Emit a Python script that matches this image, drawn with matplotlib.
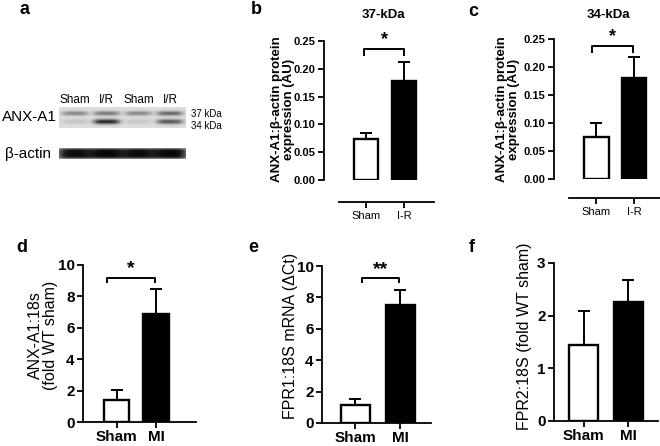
import numpy as np
import matplotlib.pyplot as plt
from matplotlib.ticker import FormatStrFormatter

plt.rcParams['font.family'] = ['Liberation Sans', 'DejaVu Sans']

W, H = 660, 446

# panel a: western blot (relative band darkness per lane)
lanes = ["Sham", "I/R", "Sham", "I/R"]
band_37kda = [0.40, 0.46, 0.40, 0.55]
band_34kda = [0.12, 0.85, 0.10, 0.62]
band_actin = [0.93, 0.96, 0.93, 0.96]

# panels b, c: protein
groups_ir = ["Sham", "I-R"]
mean_37 = [0.073, 0.178]
err_37 = [0.011, 0.034]
mean_34 = [0.075, 0.180]
err_34 = [0.025, 0.038]

# panels d, e, f: mRNA
groups_mi = ["Sham", "MI"]
mean_anx = [1.40, 6.90]
err_anx = [0.64, 1.60]
mean_fpr1 = [1.13, 7.54]
err_fpr1 = [0.38, 0.96]
mean_fpr2 = [1.44, 2.26]
err_fpr2 = [0.64, 0.41]

fig = plt.figure(figsize=(6.6, 4.46), dpi=100)


def px_axes(left, top, right, bottom):
    return fig.add_axes([left / W, 1 - bottom / H, (right - left) / W, (bottom - top) / H])


def px_text(x, y, s, **kw):
    fig.text(x / W, 1 - y / H, s, **kw)


def bar_panel(rect, xlim, width, means, errs, labels, ylim, yticks, fs, fmt=None):
    ax = px_axes(*rect)
    x = np.arange(len(means))
    ax.bar(x, means, width=width, color=['white', 'black'], edgecolor='black',
           linewidth=1.7, zorder=2)
    ax.errorbar(x, means, yerr=[np.zeros(len(means)), errs], fmt='none',
                ecolor='black', elinewidth=1.4, capsize=4.5, capthick=1.4, zorder=3)
    ax.set_xlim(*xlim)
    ax.set_ylim(*ylim)
    ax.set_yticks(yticks)
    if fmt:
        ax.yaxis.set_major_formatter(FormatStrFormatter(fmt))
    ax.set_xticks(x)
    ax.set_xticklabels(labels)
    for s in ['top', 'right']:
        ax.spines[s].set_visible(False)
    for s in ['left', 'bottom']:
        ax.spines[s].set_linewidth(1.3)
    ax.spines['left'].set_bounds(ylim[0], ylim[1])
    ax.tick_params(direction='out', length=4, width=1.3, pad=2, labelsize=fs)
    for t in ax.get_xticklabels() + ax.get_yticklabels():
        t.set_fontweight('bold')
    ax.patch.set_visible(False)
    return ax


def bracket(ax, x0, x1, ytop, ybot, label, ytext, fs):
    ax.plot([x0, x0, x1, x1], [ybot, ytop, ytop, ybot], color='black', lw=1.4,
            clip_on=False, solid_capstyle='butt')
    ax.text((x0 + x1) / 2, ytext, label, ha='center', va='center',
            fontsize=fs, fontweight='bold')


# ---- panel a ----
lw = 127 / 4
xx = np.linspace(0, 127, 381)
cx = (np.arange(4) + 0.5) * lw

yy = np.linspace(0, 21, 84)
img = np.full((yy.size, xx.size), 0.87)
for i in range(4):
    px = np.exp(-((xx - cx[i]) / (0.42 * lw)) ** 4)
    g37 = np.exp(-((yy - 7.0) / 2.2) ** 2)
    g34 = np.exp(-((yy - 15.0) / 2.4) ** 2)
    img -= 0.87 * (band_37kda[i] * np.outer(g37, px) + band_34kda[i] * np.outer(g34, px))
ax_blot = px_axes(59, 107, 186, 128)
ax_blot.imshow(np.clip(img, 0, 1), cmap='gray', vmin=0, vmax=1, aspect='auto',
               extent=[0, 127, 21, 0], interpolation='bilinear')
ax_blot.axis('off')
for i, lab in enumerate(lanes):
    ax_blot.text(cx[i], -7, lab, ha='center', va='center', fontsize=8.5)

ya = np.linspace(0, 11, 44)
img2 = np.full((ya.size, xx.size), 0.7)
for i in range(4):
    px = np.exp(-((xx - cx[i]) / (0.53 * lw)) ** 4)
    gv = np.exp(-((ya - 5.5) / 5.0) ** 6)
    img2 -= 0.7 * band_actin[i] * np.outer(gv, px)
ax_act = px_axes(59, 148, 186, 159)
ax_act.imshow(np.clip(img2, 0, 1), cmap='gray', vmin=0, vmax=1, aspect='auto',
              extent=[0, 127, 11, 0], interpolation='bilinear')
ax_act.axis('off')

px_text(2, 117, "ANX-A1", ha='left', va='center', fontsize=11)
px_text(5, 154, "β-actin", ha='left', va='center', fontsize=11)
px_text(191, 114, "37 kDa", ha='left', va='center', fontsize=7)
px_text(191, 126, "34 kDa", ha='left', va='center', fontsize=7)

# ---- panel b ----
ax_b = bar_panel((324, 41, 436, 180), (-1.105, 1.842), 0.63, mean_37, err_37, groups_ir,
                 (0, 0.25), [0, 0.05, 0.10, 0.15, 0.20, 0.25], 8, '%.2f')
ax_b.spines['bottom'].set_position(('outward', 16))
ax_b.spines['bottom'].set_bounds(-0.71, 1.79)
bracket(ax_b, -0.05, 1.0, 0.2356, 0.223, "*", 0.252, 13)
px_text(383, 15, "37-kDa", ha='center', va='center', fontsize=9.5, fontweight='bold')

# ---- panel c ----
ax_c = bar_panel((554, 39, 660, 179), (-1.12, 1.69), 0.65, mean_34, err_34, groups_ir,
                 (0, 0.25), [0, 0.05, 0.10, 0.15, 0.20, 0.25], 8, '%.2f')
ax_c.spines['bottom'].set_position(('outward', 14))
ax_c.spines['bottom'].set_bounds(-0.72, 1.69)
bracket(ax_c, -0.12, 0.97, 0.2375, 0.225, "*", 0.255, 13)
px_text(608, 15, "34-kDa", ha='center', va='center', fontsize=9.5, fontweight='bold')

for x in (283, 508):
    px_text(x, 109, "ANX-A1:β-actin protein\nexpression (AU)", ha='center', va='center',
            rotation=90, fontsize=9.5, fontweight='bold', linespacing=1.1)

# ---- panel d ----
ax_d = bar_panel((83, 265, 196, 422), (-0.85, 2.01), 0.65, mean_anx, err_anx, groups_mi,
                 (0, 10), [0, 2, 4, 6, 8, 10], 11)
bracket(ax_d, -0.24, 0.96, 9.17, 8.85, "*", 9.75, 14)
px_text(43, 335, "ANX-A1:18s\n(fold WT sham)", ha='center', va='center', rotation=90,
        fontsize=11.5, linespacing=1.05)

# ---- panel e ----
ax_e = bar_panel((322, 266, 431, 423), (-0.744, 1.68), 0.64, mean_fpr1, err_fpr1, groups_mi,
                 (0, 10), [0, 2, 4, 6, 8, 10], 11)
bracket(ax_e, 0.14, 0.97, 9.24, 8.9, "**", 9.8, 14)
px_text(290, 336, "FPR1:18S mRNA (ΔCt)", ha='center', va='center', rotation=90, fontsize=11.5)

# ---- panel f ----
ax_f = bar_panel((554, 263, 658, 421), (-0.656, 1.656), 0.65, mean_fpr2, err_fpr2, groups_mi,
                 (0, 3), [0, 1, 2, 3], 11)
px_text(525, 336, "FPR2:18S (fold WT sham)", ha='center', va='center', rotation=90,
        fontsize=11.5)

# panel letters
for lab, x, y in [("a", 25, 10), ("b", 256, 10), ("c", 473, 12),
                  ("d", 22, 247), ("e", 253, 247), ("f", 472, 247)]:
    px_text(x, y, lab, ha='center', va='center', fontsize=13, fontweight='bold')

fig.savefig("out.png", dpi=100)
